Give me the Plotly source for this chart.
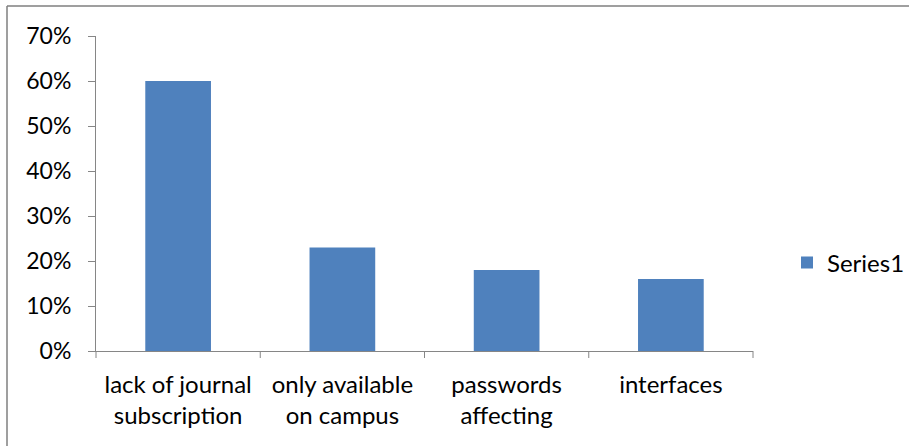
import plotly.graph_objects as go

categories = ["lack of journal<br>subscription", "only available<br>on campus", "passwords<br>affecting", "interfaces"]
values = [0.60, 0.23, 0.18, 0.16]
series_name = "Series1"
y_ticks = [0, 0.1, 0.2, 0.3, 0.4, 0.5, 0.6, 0.7]
y_tick_labels = ["0%", "10%", "20%", "30%", "40%", "50%", "60%", "70%"]

FONT = "Lato"
AXIS_COLOR = "#868686"

fig = go.Figure()
fig.add_trace(go.Bar(
    x=categories, y=values, name=series_name,
    marker=dict(color="#4F81BD", line=dict(color="#4F81BD", width=0)),
    showlegend=True,
))

fig.update_layout(
    width=909, height=446,
    margin=dict(l=96, r=156, t=36, b=95),
    paper_bgcolor="white", plot_bgcolor="white",
    bargap=0.6,
    font=dict(family=FONT, size=23, color="#000000"),
    legend=dict(xref="container", yref="container",
                x=787 / 909, y=(446 - 263) / 446, xanchor="left", yanchor="middle",
                font=dict(family=FONT, size=24, color="#000000"),
                bgcolor="rgba(0,0,0,0)", borderwidth=0),
    xaxis=dict(
        showline=True, linecolor=AXIS_COLOR, linewidth=1,
        ticks="", showgrid=False, zeroline=False,
        tickfont=dict(family=FONT, size=24),
        ticklabelstandoff=12,
    ),
    yaxis=dict(
        range=[0, 0.7], tickvals=y_ticks, ticktext=y_tick_labels,
        showline=True, linecolor=AXIS_COLOR, linewidth=1,
        ticks="outside", ticklen=7, tickcolor=AXIS_COLOR,
        showgrid=False, zeroline=False,
        tickfont=dict(family=FONT, size=23),
        ticklabelstandoff=12,
    ),
)

# category boundary tick marks on x-axis (Excel-style, between categories)
n = len(categories)
for i in range(n + 1):
    fig.add_shape(type="line", xref="x domain", yref="paper",
                  x0=i / n, x1=i / n, y0=0, y1=-7 / 315,
                  line=dict(color=AXIS_COLOR, width=1))

# chart outer border (top and left)
fig.add_shape(type="line", xref="paper", yref="paper",
              x0=-89 / 657, x1=813 / 657, y0=345 / 315, y1=345 / 315,
              line=dict(color="#7F7F7F", width=1.5))
fig.add_shape(type="line", xref="paper", yref="paper",
              x0=-89 / 657, x1=-89 / 657, y0=345 / 315, y1=-100 / 315,
              line=dict(color="#7F7F7F", width=1.5))

fig.write_html("out.html", config={"displayModeBar": False},
               post_script="document.body.style.margin='0';document.body.style.overflow='hidden';")
